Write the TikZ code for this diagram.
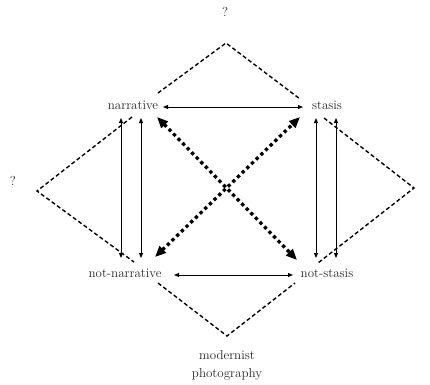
\documentclass[tikz,border=0pt]{standalone}
\usetikzlibrary{arrows.meta}
\begin{document}
\begin{tikzpicture}[x=1pt,y=-1pt,
  lbl/.style={font=\fontsize{13}{18}\selectfont, inner sep=0pt, text=black!85},
  biarrow/.style={line width=0.9pt, {Triangle[length=5pt,width=4pt]}-{Triangle[length=5pt,width=4pt]}},
  dotarrow/.style={line width=3.3pt, dash pattern=on 3.3pt off 3.2pt, {Triangle[length=11pt,width=9pt]}-{Triangle[length=11pt,width=9pt]}},
  dashline/.style={line width=1.4pt, dash pattern=on 4pt off 2.6pt}]
\useasboundingbox (0,0) rectangle (430,384);
% labels
\node[lbl, anchor=mid] (nar) at (133,107) {narrative};
\node[lbl, anchor=mid] (sta) at (327,107) {stasis};
\node[lbl, anchor=mid] (nnar) at (125,275) {not-narrative};
\node[lbl, anchor=mid] (nsta) at (327,275) {not-stasis};
\node[lbl, anchor=mid] (qtop) at (225,14) {?};
\node[lbl, anchor=mid] (qleft) at (13,183) {?};
\node[lbl, anchor=north, align=center] (mod) at (227,350) {modernist\\photography};
% endpoints
\coordinate (h1a) at (163,107); \coordinate (h1b) at (303,107);
\coordinate (h2a) at (174,275); \coordinate (h2b) at (293,275);
\coordinate (v1a) at (121,118); \coordinate (v1b) at (121,258);
\coordinate (v2a) at (141,118); \coordinate (v2b) at (141,258);
\coordinate (v3a) at (316,118); \coordinate (v3b) at (316,258);
\coordinate (v4a) at (336,118); \coordinate (v4b) at (336,258);
\coordinate (d1a) at (157,117); \coordinate (d1b) at (297,260);
\coordinate (d2a) at (155,257); \coordinate (d2b) at (300,117);
\coordinate (t1) at (158,93); \coordinate (t2) at (226,43); \coordinate (t3) at (300,99);
\coordinate (l1) at (132,117); \coordinate (l2) at (37,191); \coordinate (l3) at (134,262);
\coordinate (r1) at (324,118); \coordinate (r2) at (414,188); \coordinate (r3) at (318,263);
\coordinate (b1) at (158,283); \coordinate (b2) at (227,336); \coordinate (b3) at (295,283);
% arrows
\draw[biarrow] (h1a) -- (h1b);
\draw[biarrow] (h2a) -- (h2b);
\draw[biarrow] (v1a) -- (v1b);
\draw[biarrow] (v2a) -- (v2b);
\draw[biarrow] (v3a) -- (v3b);
\draw[biarrow] (v4a) -- (v4b);
\draw[dotarrow] (d1a) -- (d1b);
\draw[dotarrow] (d2a) -- (d2b);
% dashed diamonds
\draw[dashline] (t1) -- (t2) -- (t3);
\draw[dashline] (l1) -- (l2) -- (l3);
\draw[dashline] (r1) -- (r2) -- (r3);
\draw[dashline] (b1) -- (b2) -- (b3);
\end{tikzpicture}
\end{document}
